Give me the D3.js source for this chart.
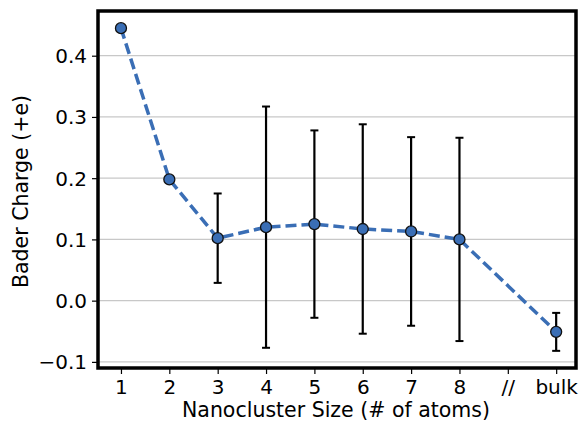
<!DOCTYPE html>
<html><head><meta charset="utf-8">
<script src="https://cdn.jsdelivr.net/npm/d3@7"></script>
<style>body{margin:0;background:#fff}svg{display:block}text{font-family:"DejaVu Sans",sans-serif;fill:#000}</style>
</head><body>
<svg id="c" width="579" height="423"></svg>
<script>
const tickLabels = ["1","2","3","4","5","6","7","8","//","bulk"];
const positions = [1,2,3,4,5,6,7,8,9,10];
const pointPos = [1,2,3,4,5,6,7,8,10];
const charge = [0.445,0.198,0.102,0.120,0.125,0.117,0.113,0.100,-0.051];
const errors = [0,0,0.073,0.197,0.153,0.171,0.154,0.166,0.031];
const yTicks = [-0.1,0.0,0.1,0.2,0.3,0.4];

const svg = d3.select("#c");
const L=98, R=576, T=11, B=368;
const x = d3.scaleLinear().domain([0.525,10.41]).range([L,R]);
const y = d3.scaleLinear().domain([-0.11,0.473]).range([B,T]);
const blue = "#3a6eb5";

// grid
svg.append("g").selectAll("line").data(yTicks).join("line")
  .attr("x1",L).attr("x2",R).attr("y1",d=>y(d)).attr("y2",d=>y(d))
  .attr("stroke","#c8c8c8").attr("stroke-width",1.2);

// axes
const xa = svg.append("g").attr("transform",`translate(0,${B})`)
  .call(d3.axisBottom(x).tickValues(positions).tickFormat((d,i)=>tickLabels[i]).tickSize(6).tickPadding(4));
const ya = svg.append("g").attr("transform",`translate(${L},0)`)
  .call(d3.axisLeft(y).tickValues(yTicks).tickFormat(d=>d3.format(".1f")(d).replace("-","\u2212")).tickSize(6).tickPadding(5));
[xa,ya].forEach(a=>{a.select(".domain").remove();a.selectAll("line").attr("stroke","#000").attr("stroke-width",1.2);a.selectAll("text").attr("font-size",20).attr("font-family","DejaVu Sans");});
xa.selectAll("text").attr("dy","0.78em");
ya.selectAll("text").attr("dy","0.35em");

// error bars
const eb = svg.append("g");
pointPos.forEach((p,i)=>{
  if(!errors[i]) return;
  const cx=x(p), y1=y(charge[i]+errors[i]), y2=y(charge[i]-errors[i]);
  eb.append("line").attr("x1",cx).attr("x2",cx).attr("y1",y1).attr("y2",y2).attr("stroke","#000").attr("stroke-width",2.2);
  [y1,y2].forEach(yy=>eb.append("line").attr("x1",cx-4).attr("x2",cx+4).attr("y1",yy).attr("y2",yy).attr("stroke","#000").attr("stroke-width",2));
});

// line
const line = d3.line().x((d,i)=>x(pointPos[i])).y(d=>y(d));
svg.append("path").datum(charge).attr("d",line).attr("fill","none")
  .attr("stroke",blue).attr("stroke-width",3.5).attr("stroke-dasharray","11,5");

// markers
svg.append("g").selectAll("circle").data(charge).join("circle")
  .attr("cx",(d,i)=>x(pointPos[i])).attr("cy",d=>y(d)).attr("r",5.5)
  .attr("fill",blue).attr("stroke","#111").attr("stroke-width",1.3);

// frame
svg.append("rect").attr("x",L).attr("y",T).attr("width",R-L).attr("height",B-T)
  .attr("fill","none").attr("stroke","#000").attr("stroke-width",3.5);

// titles
svg.append("text").attr("x",(L+R)/2 - 1).attr("y",417).attr("text-anchor","middle").attr("font-size",20.5).text("Nanocluster Size (# of atoms)");
svg.append("text").attr("transform",`translate(28,${(T+B)/2+2}) rotate(-90)`).attr("text-anchor","middle").attr("font-size",20.5).text("Bader Charge (+e)");
</script>
</body></html>
